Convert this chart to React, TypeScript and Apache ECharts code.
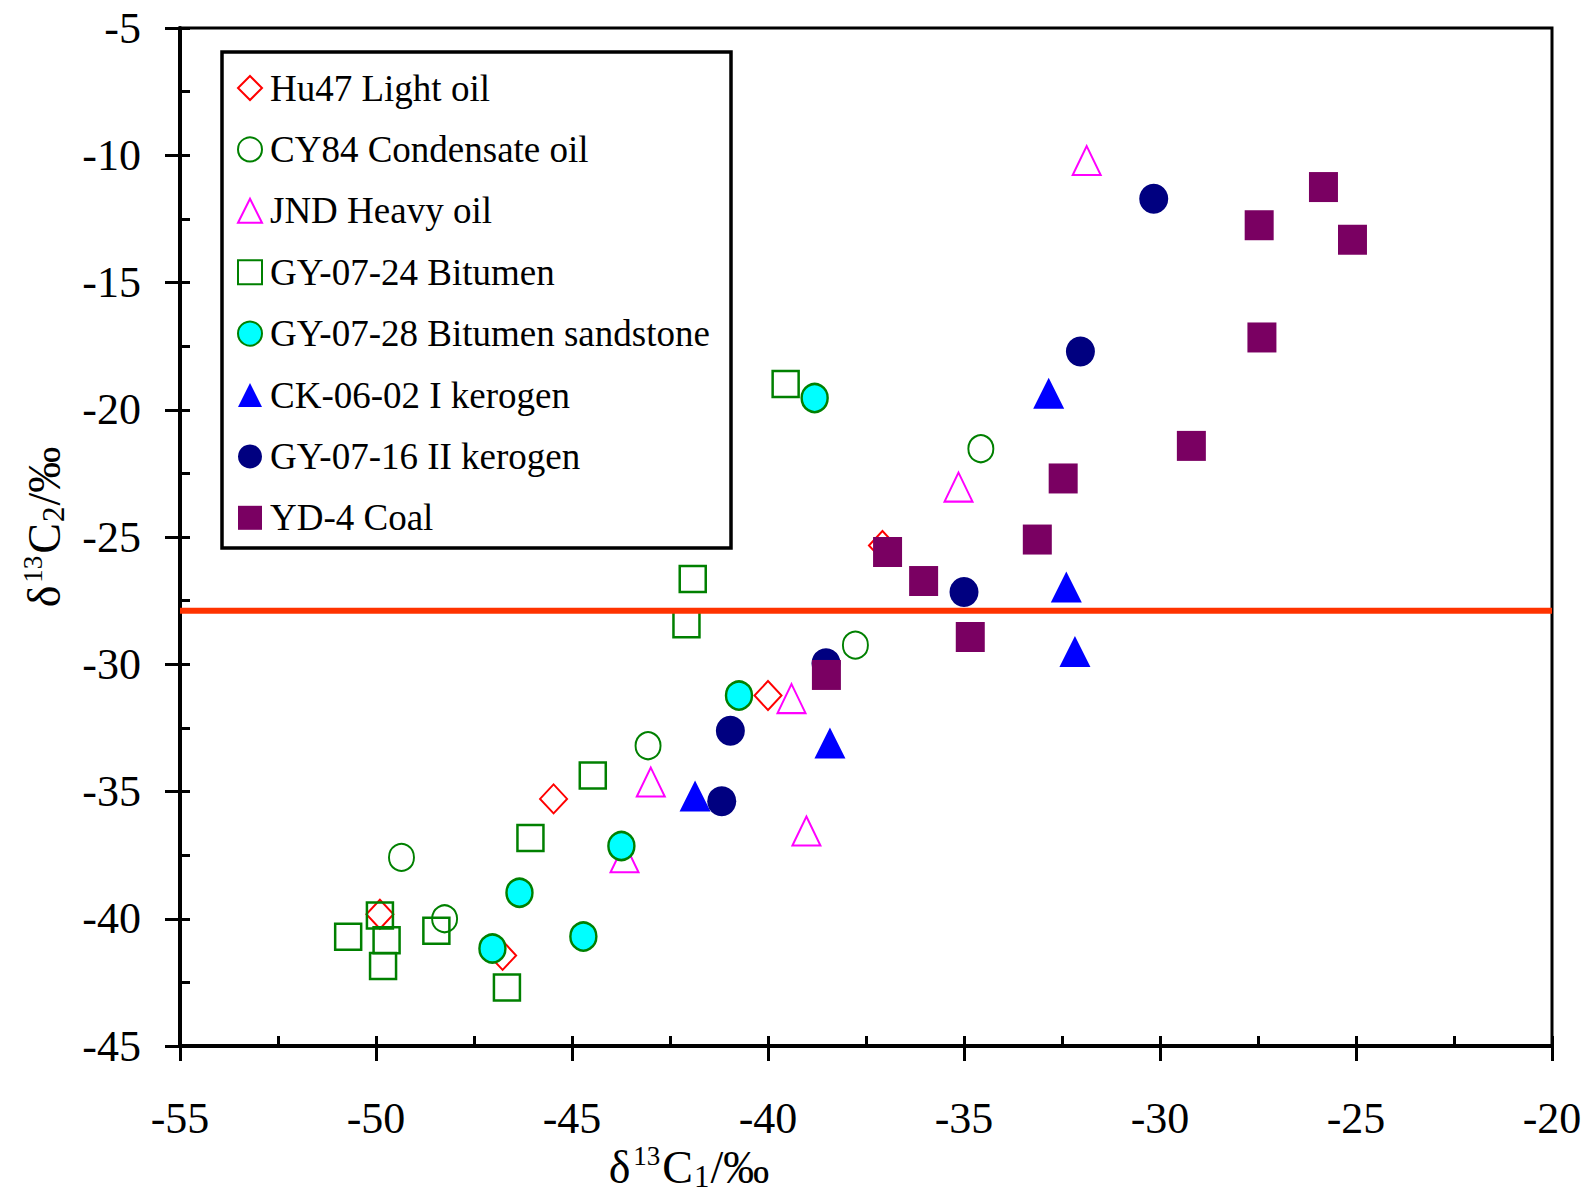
import React, { useEffect, useRef } from "react";
import * as echarts from "echarts";

const FONT = "'Liberation Serif', 'Times New Roman', serif";

const xTickMin = -55;
const xTickMax = -20;
const yTickMin = -45;
const yTickMax = -5;

const seriesNames = [
  "Hu47 Light oil",
  "CY84 Condensate oil",
  "JND Heavy oil",
  "GY-07-24 Bitumen",
  "GY-07-28 Bitumen sandstone",
  "CK-06-02 I kerogen",
  "GY-07-16 II kerogen",
  "YD-4 Coal",
];

const hu47LightOil = [
  [-49.9, -39.82], [-46.77, -41.44], [-45.47, -35.29], [-40.0, -31.23], [-37.08, -25.33],
];
const cy84Condensate = [
  [-49.35, -37.59], [-48.25, -40.0], [-43.06, -33.2], [-37.77, -29.25], [-34.57, -21.53],
];
const jndHeavyOil = [
  [-43.66, -37.6], [-42.99, -34.63], [-39.4, -31.35], [-39.02, -36.55], [-35.14, -23.04], [-31.87, -10.21],
];
const gy0724Bitumen = [
  [-50.71, -40.71], [-49.9, -39.87], [-49.73, -40.84], [-49.82, -41.86], [-48.46, -40.47],
  [-46.66, -42.7], [-46.06, -36.83], [-44.47, -34.37], [-42.08, -28.43], [-41.92, -26.65], [-39.55, -18.99],
];
const gy0728Sandstone = [
  [-47.03, -41.17], [-46.34, -38.98], [-44.71, -40.7], [-43.74, -37.14], [-40.74, -31.23], [-38.81, -19.54],
];
const ck0602Kerogen = [
  [-41.86, -35.18], [-38.42, -33.09], [-32.84, -19.35], [-32.39, -26.96], [-32.17, -29.5],
];
const gy0716Kerogen = [
  [-41.18, -35.38], [-40.96, -32.61], [-38.52, -29.96], [-35.0, -27.16], [-32.03, -17.71], [-30.16, -11.71],
];
const yd4Coal = [
  [-38.51, -30.42], [-36.95, -25.59], [-36.03, -26.73], [-34.84, -28.93], [-33.13, -25.1],
  [-32.47, -22.7], [-29.2, -21.42], [-27.47, -12.75], [-27.4, -17.16], [-25.83, -11.25], [-25.09, -13.32],
];
const boundaryLine = [
  [-55, -27.9], [-20, -27.9],
];

const HOLLOW = "rgba(255,255,255,0)";

const titleRich = {
  m: { fontSize: 46, lineHeight: 50, fontFamily: FONT, color: "#000" },
  sup: { fontSize: 27, lineHeight: 24, verticalAlign: "top", fontFamily: FONT, color: "#000", padding: [0, 2, 0, 3] },
  sub: { fontSize: 31, lineHeight: 25, verticalAlign: "bottom", fontFamily: FONT, color: "#000", padding: [0, 1, 0, 1] },
};

export default function App() {
  const ref = useRef<HTMLDivElement>(null);

  useEffect(() => {
    document.body.style.margin = "0";
    if (!ref.current) return;
    const chart = echarts.init(ref.current, undefined, { renderer: "svg" });

    const axisLabel = { fontSize: 44, fontFamily: FONT, color: "#000" };

    const option: any = {
      animation: false,
      backgroundColor: "#fff",
      grid: {
        left: 180,
        top: 28,
        width: 1372,
        height: 1018,
        show: true,
        borderColor: "#000",
        borderWidth: 3,
        backgroundColor: "transparent",
      },
      xAxis: [
        {
          type: "value",
          min: xTickMin,
          max: xTickMax,
          interval: 5,
          position: "bottom",
          axisLine: { show: true, onZero: false, lineStyle: { color: "#000", width: 4 } },
          axisTick: { show: true, inside: false, length: 15, lineStyle: { color: "#000", width: 3 } },
          axisLabel: { ...axisLabel, margin: 50 },
          splitLine: { show: false },
        },
        {
          type: "value",
          min: xTickMin,
          max: xTickMax,
          interval: 2.5,
          position: "bottom",
          axisLine: { show: false, onZero: false },
          axisTick: { show: true, inside: true, length: 10, lineStyle: { color: "#000", width: 3 } },
          axisLabel: { show: false },
          splitLine: { show: false },
        },
      ],
      yAxis: [
        {
          type: "value",
          min: yTickMin,
          max: yTickMax,
          interval: 5,
          position: "left",
          axisLine: { show: true, onZero: false, lineStyle: { color: "#000", width: 4 } },
          axisTick: { show: true, inside: false, length: 15, lineStyle: { color: "#000", width: 3 } },
          axisLabel: { ...axisLabel, margin: 39 },
          splitLine: { show: false },
        },
        {
          type: "value",
          min: yTickMin,
          max: yTickMax,
          interval: 2.5,
          position: "left",
          axisLine: { show: false, onZero: false },
          axisTick: { show: true, inside: true, length: 10, lineStyle: { color: "#000", width: 3 } },
          axisLabel: { show: false },
          splitLine: { show: false },
        },
      ],
      legend: {
        show: true,
        data: seriesNames,
        orient: "vertical",
        left: 237,
        top: 68,
        padding: 0,
        itemWidth: 24,
        itemHeight: 24,
        itemGap: 21.4,
        selectedMode: false,
        textStyle: { fontFamily: FONT, fontSize: 37, color: "#000", lineHeight: 40, padding: [0, 0, 0, 3] },
      },
      graphic: [
        {
          type: "rect",
          shape: { x: 222, y: 52, width: 509, height: 496 },
          style: { fill: "none", stroke: "#000", lineWidth: 3.5 },
          silent: true,
        },
        {
          type: "text",
          x: 689,
          y: 1167,
          style: {
            text: "{m|δ}{sup|13}{m|C}{sub|1}{m|/‰}",
            rich: titleRich,
            align: "center",
            verticalAlign: "middle",
          },
          silent: true,
        },
        {
          type: "text",
          x: 44,
          y: 527,
          rotation: Math.PI / 2,
          style: {
            text: "{m|δ}{sup|13}{m|C}{sub|2}{m|/‰}",
            rich: titleRich,
            align: "center",
            verticalAlign: "middle",
          },
          silent: true,
        },
      ],
      series: [
        {
          name: seriesNames[0],
          type: "scatter",
          symbol: "diamond",
          symbolSize: [27, 29],
          data: hu47LightOil,
          itemStyle: { color: HOLLOW, borderColor: "#FF0000", borderWidth: 2, opacity: 1 },
        },
        {
          name: seriesNames[1],
          type: "scatter",
          symbol: "circle",
          symbolSize: [25, 27],
          data: cy84Condensate,
          itemStyle: { color: HOLLOW, borderColor: "#008000", borderWidth: 2, opacity: 1 },
        },
        {
          name: seriesNames[2],
          type: "scatter",
          symbol: "triangle",
          symbolSize: [28, 29],
          data: jndHeavyOil,
          itemStyle: { color: HOLLOW, borderColor: "#FF00FF", borderWidth: 2, opacity: 1 },
        },
        {
          name: seriesNames[3],
          type: "scatter",
          symbol: "rect",
          symbolSize: [26, 26],
          data: gy0724Bitumen,
          itemStyle: { color: HOLLOW, borderColor: "#008000", borderWidth: 2.5, opacity: 1 },
        },
        {
          name: seriesNames[4],
          type: "scatter",
          symbol: "circle",
          symbolSize: [26, 28],
          data: gy0728Sandstone,
          itemStyle: { color: "#00FFFF", borderColor: "#008000", borderWidth: 2.5, opacity: 1 },
        },
        {
          name: seriesNames[5],
          type: "scatter",
          symbol: "triangle",
          symbolSize: [31, 31],
          data: ck0602Kerogen,
          itemStyle: { color: "#0000FF", opacity: 1 },
        },
        {
          name: seriesNames[6],
          type: "scatter",
          symbol: "circle",
          symbolSize: [29, 30],
          data: gy0716Kerogen,
          itemStyle: { color: "#000080", opacity: 1 },
        },
        {
          name: seriesNames[7],
          type: "scatter",
          symbol: "rect",
          symbolSize: [29, 30],
          data: yd4Coal,
          itemStyle: { color: "#7A0062", opacity: 1 },
        },
        {
          type: "line",
          data: boundaryLine,
          symbol: "none",
          silent: true,
          z: 5,
          lineStyle: { color: "#FF3300", width: 6 },
        },
      ],
    };

    chart.setOption(option);
    return () => chart.dispose();
  }, []);

  return <div ref={ref} style={{ width: 1589, height: 1197 }} />;
}
